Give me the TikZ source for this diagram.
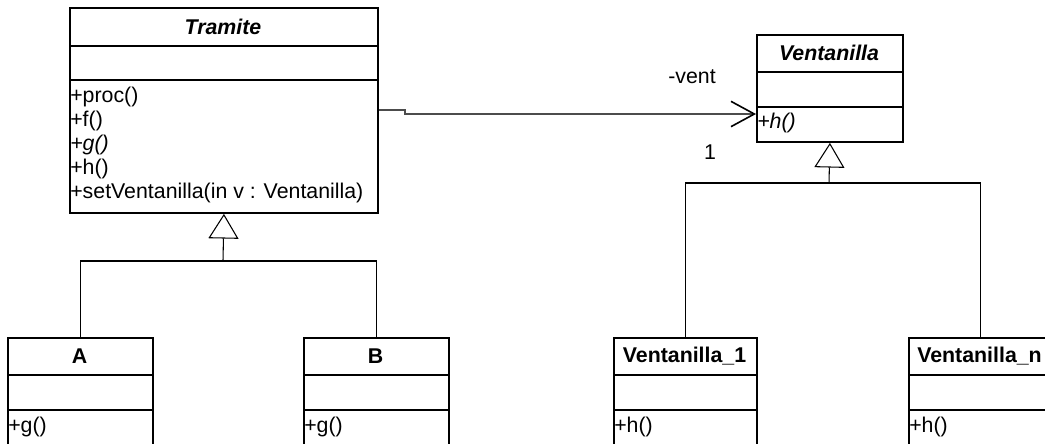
\documentclass[tikz,border=0pt]{standalone}
\usepackage{fontspec}
\setmainfont{Liberation Sans}
\usetikzlibrary{arrows.meta}
\begin{document}
\begin{tikzpicture}[x=0.75pt,y=-0.75pt,
  box/.style={draw=black,line width=1.4pt,fill=white,inner sep=0pt,anchor=north west},
  sep/.style={draw=black,line width=1.4pt},
  txt/.style={inner sep=0pt,font=\fontsize{16}{18}\selectfont},
  title/.style={txt,font=\bfseries\fontsize{16}{18}\selectfont},
  atitle/.style={txt,font=\bfseries\itshape\fontsize{16}{18}\selectfont},
  mth/.style={txt,anchor=west},
  amth/.style={mth,font=\itshape\fontsize{16}{18}\selectfont},
  gen/.style={draw=black,line width=0.8pt},
  genarrow/.style={gen,-{Triangle[open,length=18.5pt,width=22.5pt,fill=white]}},
  assoc/.style={draw=black!70,line width=1pt,-{Straight Barb[length=17.5pt,width=19pt,color=black,line width=1.2pt]}}
]
\useasboundingbox (0,0) rectangle (1045,443);
\clip (0,0) rectangle (1045,443);
\fill[white] (0,0) rectangle (1045,443);

% classes
\node[box,minimum width=231pt,minimum height=153.75pt] (tram) at (69,7) {};
\node[box,minimum width=109.5pt,minimum height=80.25pt] (vent) at (756,34) {};
\node[box,minimum width=108.75pt,minimum height=84.75pt] (A) at (7,337) {};
\node[box,minimum width=108.75pt,minimum height=84.75pt] (B) at (303,337) {};
\node[box,minimum width=107.25pt,minimum height=84.75pt] (V1) at (613,337) {};
\node[box,minimum width=107.25pt,minimum height=84.75pt] (Vn) at (908,337) {};

% compartments
\draw[sep] (tram.west |- 0,46) -- (tram.east |- 0,46);
\draw[sep] (tram.west |- 0,80) -- (tram.east |- 0,80);
\draw[sep] (vent.west |- 0,72) -- (vent.east |- 0,72);
\draw[sep] (vent.west |- 0,107) -- (vent.east |- 0,107);
\foreach \c in {A,B,V1,Vn}{
  \draw[sep] (\c.west |- 0,375) -- (\c.east |- 0,375);
  \draw[sep] (\c.west |- 0,410) -- (\c.east |- 0,410);
}

% titles
\node[atitle] (tramT) at (223,27) {Tramite};
\node[atitle] (ventT) at (829,53) {Ventanilla};
\node[title] (AT) at (79.5,356) {A};
\node[title] (BT) at (375.5,356) {B};
\node[title] (V1T) at (684.5,356) {Ventanilla\_1};
\node[title] (VnT) at (979.5,356) {Ventanilla\_n};

% operations
\node[mth] (m1) at (70,97) {+proc()};
\node[mth] (m2) at (70,121) {+f()};
\node[amth] (m3) at (70,145) {+g()};
\node[mth] (m4) at (70,169) {+h()};
\node[mth] (m5) at (70,193) {+setVentanilla(in v : Ventanilla)};
\node[amth] (vm) at (757,123) {+h()};
\node[mth] (Am) at (8,427) {+g()};
\node[mth] (Bm) at (304,427) {+g()};
\node[mth] (V1m) at (614,427) {+h()};
\node[mth] (Vnm) at (909,427) {+h()};

% generalizations
\coordinate (tj) at (223,261);
\draw[gen] (A.north) |- (tj) -| (B.north);
\draw[genarrow] (tj) -- (tram.south);
\coordinate (vj) at (829,183);
\draw[gen] (V1.north) |- (vj) -| (Vn.north);
\draw[genarrow] (vj) -- (vent.south);

% association
\coordinate (s1) at (405,110);
\coordinate (s2) at (405,114);
\draw[assoc] (tram.east |- s1) -- (s1) -- (s2) -- (vent.west |- s2);
\node[txt] (role) at (692,77) {-vent};
\node[txt] (mult) at (710,152) {1};
\end{tikzpicture}
\end{document}
